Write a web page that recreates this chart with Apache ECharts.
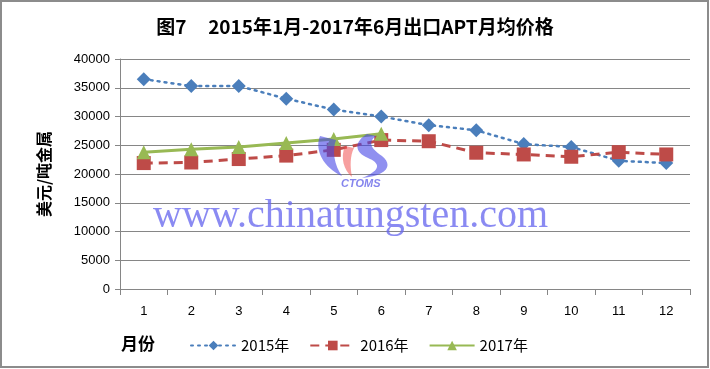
<!DOCTYPE html>
<html>
<head>
<meta charset="utf-8">
<script src="https://cdn.jsdelivr.net/npm/echarts@6/dist/echarts.min.js"></script>
<style>
  html, body { margin: 0; padding: 0; background: #fff; }
  #chart { width: 710px; height: 369px; }
</style>
</head>
<body>
<div id="chart"></div>
<script>
// 月份
var months = ['1', '2', '3', '4', '5', '6', '7', '8', '9', '10', '11', '12']
// 各年月均价格（美元/吨金属）
var price2015 = [36500, 35300, 35300, 33100, 31200, 30000, 28500, 27600, 25200, 24700, 22300, 21900]
var price2016 = [21900, 22000, 22600, 23200, 24200, 25900, 25700, 23700, 23400, 23000, 23800, 23400]
var price2017 = [23800, 24300, 24700, 25400, 26100, 27000]

var myChart = echarts.init(document.getElementById('chart'))

var labelFont = { fontFamily: 'Liberation Sans', fontSize: 13, color: '#000' }

// 水印 logo 用一张内联 svg 图
var logoSvg = '<svg xmlns="http://www.w3.org/2000/svg" width="80" height="45" viewBox="0 0 80 45">' +
  '<path d="M8,2 C2,16 12,34 30,42 C22,31 20,16 24,6 Z" fill="rgba(70,70,230,0.6)"/>' +
  '<path d="M33,12 C28,24 32,36 40,43 C38,32 38,22 42,14 Z" fill="rgba(240,80,80,0.55)"/>' +
  '<path d="M55,0 C42,8 42,18 56,24 C68,29 70,36 50,44 C74,42 82,32 70,22 C58,14 56,8 64,2 Z" fill="rgba(70,70,230,0.6)"/>' +
  '</svg>'
var logoUrl = 'data:image/svg+xml;charset=utf-8,' + encodeURIComponent(logoSvg)

var option = {
  animation: false,
  title: {
    text: '图7     2015年1月-2017年6月出口APT月均价格',
    left: 'center',
    top: 12,
    textStyle: { fontFamily: 'Noto Sans CJK SC', fontSize: 19, fontWeight: 'bold', color: '#000' }
  },
  grid: { left: 120, right: 20, top: 59, bottom: 80 },
  legend: {
    left: 185,
    top: 333,
    itemWidth: 45,
    itemHeight: 12,
    itemGap: 20,
    textStyle: { fontFamily: 'Noto Sans CJK SC', fontSize: 15, color: '#000' },
    data: ['2015年', '2016年', '2017年']
  },
  xAxis: {
    type: 'category',
    data: months,
    boundaryGap: true,
    axisLine: { lineStyle: { color: '#868686' } },
    axisTick: { show: true, length: 6, lineStyle: { color: '#868686' } },
    axisLabel: Object.assign({ margin: 16 }, labelFont)
  },
  yAxis: {
    type: 'value',
    min: 0,
    max: 40000,
    interval: 5000,
    name: '美元/吨金属',
    nameLocation: 'middle',
    nameGap: 68,
    nameTextStyle: { fontFamily: 'Noto Sans CJK SC', fontSize: 16, fontWeight: 'bold', color: '#000' },
    axisLine: { show: true, lineStyle: { color: '#868686' } },
    axisTick: { show: true, length: 5, lineStyle: { color: '#868686' } },
    axisLabel: Object.assign({ margin: 10, formatter: function (v) { return String(v) } }, labelFont),
    splitLine: { lineStyle: { color: '#868686' } }
  },
  series: [
    {
      name: '2015年',
      type: 'line',
      data: price2015,
      symbol: 'diamond',
      symbolSize: 14,
      itemStyle: { color: '#4a7ebb' },
      lineStyle: { color: '#4a7ebb', width: 2.5, type: [2, 5], cap: 'round' },
      z: 2
    },
    {
      name: '2016年',
      type: 'line',
      data: price2016,
      symbol: 'rect',
      symbolSize: 14,
      itemStyle: { color: '#be4b48' },
      lineStyle: { color: '#be4b48', width: 3, type: [9, 6] },
      z: 3
    },
    {
      name: '2017年',
      type: 'line',
      data: price2017,
      symbol: 'triangle',
      symbolSize: 14,
      itemStyle: { color: '#98b954' },
      lineStyle: { color: '#98b954', width: 3 },
      z: 4
    }
  ],
  graphic: [
    {
      type: 'rect',
      shape: { x: 1, y: 1, width: 707, height: 366 },
      style: { fill: 'none', stroke: '#8c8c8c', lineWidth: 2 },
      silent: true
    },
    {
      type: 'text',
      left: 121,
      top: 335,
      style: { text: '月份', font: 'bold 17px "Noto Sans CJK SC"', fill: '#000' }
    },
    {
      type: 'image',
      left: 312,
      top: 134,
      style: { image: logoUrl, width: 80, height: 45 },
      z: 10
    },
    {
      type: 'text',
      left: 341,
      top: 178,
      style: { text: 'CTOMS', font: 'italic bold 11px "Liberation Sans"', fill: 'rgba(80,80,230,0.7)' },
      z: 10
    },
    {
      type: 'text',
      left: 153,
      top: 196,
      style: {
        text: 'www.chinatungsten.com',
        font: '40px "Liberation Serif"',
        fill: 'rgba(105,105,238,0.78)',
        shadowColor: 'rgba(120,120,120,0.35)',
        shadowBlur: 3,
        shadowOffsetX: 1,
        shadowOffsetY: 1
      },
      z: 10
    }
  ]
}

myChart.setOption(option)
</script>
</body>
</html>
